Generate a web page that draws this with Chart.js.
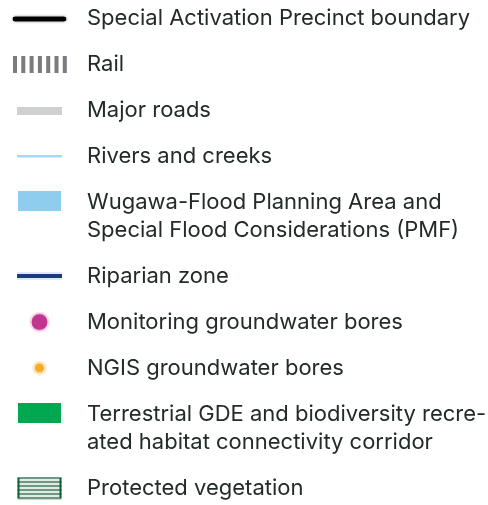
<!DOCTYPE html>
<html>
<head>
<meta charset="utf-8">
<script src="https://cdn.jsdelivr.net/npm/chart.js@4/dist/chart.umd.min.js"></script>
<style>
html,body{margin:0;padding:0;background:#fff;}
#wrap{width:488px;height:505px;}
</style>
</head>
<body>
<div id="wrap"><canvas id="c" width="488" height="505"></canvas></div>
<script>
// ---- legend content (categories) ----
const categories = [
  'Special Activation Precinct boundary',
  'Rail',
  'Major roads',
  'Rivers and creeks',
  'Wugawa-Flood Planning Area and',
  'Riparian zone',
  'Monitoring groundwater bores',
  'NGIS groundwater bores',
  'Terrestrial GDE and biodiversity recre-',
  'Protected vegetation'
];
// continuation lines of wrapped labels (by item index)
const secondLines = {
  4: 'Special Flood Considerations (PMF)',
  8: 'ated habitat connectivity corridor'
};
const symbolKinds = ['boundary','rail','road','river','floodArea','riparian','monBore','ngisBore','gde','protectedVeg'];

// ---- layout constants ----
const ITEM_STEP = 1;          // one item row
const LINE_STEP = 28 / 46;    // extra wrapped line
const TEXT = '#232b2a';

// compute row values from label structure
const rowValues = [];
const lineValues = [];
const lineTexts = [];
let v = 0;
categories.forEach((c, i) => {
  rowValues.push(v);
  lineValues.push(v); lineTexts.push(c);
  if (secondLines[i]) {
    lineValues.push(v + LINE_STEP); lineTexts.push(secondLines[i]);
    v += LINE_STEP;
  }
  v += ITEM_STEP;
});

// ---- symbol icons ----
function mk(w, h, draw) {
  const cv = document.createElement('canvas');
  cv.width = w; cv.height = h;
  draw(cv.getContext('2d'), w, h);
  return cv;
}
const icons = {
  boundary: mk(59, 14, (g) => {
    g.shadowColor = 'rgba(0,0,0,0.55)';
    g.shadowBlur = 3;
    g.strokeStyle = '#000';
    g.lineWidth = 4.5;
    g.lineCap = 'round';
    g.beginPath(); g.moveTo(5, 8); g.lineTo(54, 8); g.stroke();
    g.shadowBlur = 0;
    g.beginPath(); g.moveTo(5, 8); g.lineTo(54, 8); g.stroke();
  }),
  rail: mk(55, 18, (g) => {
    g.fillStyle = '#7b7b80';
    for (let i = 0; i < 7; i++) g.fillRect(1 + i * 8.3, 1, 4, 17);
  }),
  road: mk(45, 12, (g) => {
    g.fillStyle = '#cfd0d2';
    g.fillRect(0, 3, 45, 8);
  }),
  river: mk(45, 4, (g) => {
    g.fillStyle = '#a9d8f2';
    g.fillRect(0, 1, 45, 2.5);
  }),
  floodArea: mk(43, 22, (g) => {
    g.fillStyle = '#8fcdef';
    g.fillRect(0, 0, 43, 20);
  }),
  riparian: mk(45, 8, (g) => {
    g.fillStyle = '#dde9f6';
    g.fillRect(0, 0, 45, 8);
    g.fillStyle = '#1b3a80';
    g.fillRect(0, 2, 45, 4);
  }),
  monBore: mk(21, 21, (g) => {
    g.fillStyle = '#f8dcec';
    g.beginPath(); g.arc(10.5, 10.5, 10.3, 0, Math.PI * 2); g.fill();
    g.fillStyle = '#c0368f';
    g.beginPath(); g.arc(10.5, 10.5, 8, 0, Math.PI * 2); g.fill();
  }),
  ngisBore: mk(15, 15, (g) => {
    g.fillStyle = '#fde7c6';
    g.beginPath(); g.arc(7.5, 7.5, 7.2, 0, Math.PI * 2); g.fill();
    g.fillStyle = '#f9ab27';
    g.beginPath(); g.arc(7.5, 7.5, 4.6, 0, Math.PI * 2); g.fill();
  }),
  gde: mk(43, 22, (g) => {
    g.fillStyle = '#00a94f';
    g.fillRect(0, 0, 43, 20);
  }),
  protectedVeg: mk(45, 23, (g) => {
    g.strokeStyle = '#145c34';
    g.lineWidth = 1.6;
    for (let i = 0; i < 6; i++) {
      const y = 1.5 + i * 4;
      g.beginPath(); g.moveTo(0.5, y); g.lineTo(44.5, y); g.stroke();
    }
    g.lineWidth = 2;
    g.beginPath(); g.moveTo(1.5, 1.5); g.lineTo(1.5, 21.5); g.stroke();
    g.beginPath(); g.moveTo(43.5, 1.5); g.lineTo(43.5, 21.5); g.stroke();
  })
};

const datasets = categories.map((c, i) => ({
  label: c,
  data: [{ x: 0.5, y: rowValues[i] }],
  pointStyle: icons[symbolKinds[i]],
  pointRadius: 10,
  pointHoverRadius: 10
}));

const CHART_H = 505, FIRST_ROW_PX = 18, ROW_PX = 46, SYMBOL_COL = 79;

new Chart(document.getElementById('c'), {
  type: 'scatter',
  data: { datasets },
  options: {
    responsive: false,
    devicePixelRatio: 1,
    animation: false,
    events: [],
    layout: { padding: 0, autoPadding: false },
    plugins: { legend: { display: false }, tooltip: { enabled: false } },
    scales: {
      x: { type: 'linear', display: false, min: 0, max: 1 },
      y: {
        type: 'linear',
        position: 'right',
        reverse: true,
        min: -FIRST_ROW_PX / ROW_PX,
        max: (CHART_H - FIRST_ROW_PX) / ROW_PX,
        grid: { display: false, drawTicks: false },
        border: { display: false },
        afterBuildTicks: (scale) => { scale.ticks = lineValues.map(val => ({ value: val })); },
        afterFit: (scale) => {
          scale.width = 488 - SYMBOL_COL;
          scale.paddingTop = 0; scale.paddingBottom = 0;
        },
        ticks: {
          autoSkip: false,
          padding: 8,
          color: TEXT,
          font: { family: 'Inter', size: 22, weight: '400' },
          callback: (value, index) => lineTexts[index]
        }
      }
    }
  }
});
</script>
</body>
</html>
